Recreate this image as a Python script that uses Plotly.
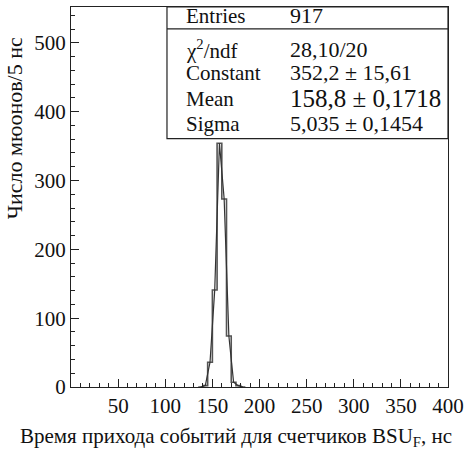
import plotly.graph_objects as go

# Histogram data (5 ns bins)
bin_left = [135, 140, 145, 150, 155, 160, 165, 170, 175, 180]
counts = [0, 2, 36, 141, 354, 273, 74, 7, 2, 0]
bin_width = 5

stat_labels = ["Entries", "\u03c7<sup>2</sup>/ndf", "Constant", "Mean", "Sigma"]
stat_values = ["917", "28,10/20", "352,2 \u00b1 15,61", "158,8 \u00b1 0,1718", "5,035 \u00b1 0,1454"]

x_ticks = [0, 50, 100, 150, 200, 250, 300, 350, 400]
x_ticktext = ["", "50", "100", "150", "200", "250", "300", "350", "400"]

x_title = "Время прихода событий для счетчиков BSU<sub>F</sub>, нс"
y_title = "Число мюонов/5 нс"

FONT = "Liberation Serif"

# plot-area geometry (pixels) used for paper-coordinate placement of texts
L, R, T, B = 71, 452, 6, 387
W, H = R - L, B - T


def px(x):
    return (x - L) / W


def py(y):
    return (B - y) / H


# step outline
sx, sy = [], []
for l, c in zip(bin_left, counts):
    sx += [l, l + bin_width]
    sy += [c, c]
centers = [l + bin_width / 2 for l in bin_left]

fig = go.Figure()
fig.add_trace(go.Scatter(x=sx, y=sy, mode="lines", line=dict(color="#555555", width=1.6),
                         hoverinfo="skip", showlegend=False))
fig.add_trace(go.Scatter(x=centers, y=counts, mode="lines", line=dict(color="#333333", width=1.2),
                         hoverinfo="skip", showlegend=False))

fig.update_layout(
    width=470, height=452,
    margin=dict(l=L, r=470 - R, t=T, b=452 - B),
    paper_bgcolor="white", plot_bgcolor="white",
    font=dict(family=FONT, size=20, color="#111111"),
    showlegend=False,
)
fig.update_xaxes(
    range=[0, 400], tickmode="array", tickvals=x_ticks, ticktext=x_ticktext,
    ticks="inside", ticklen=8, tickwidth=1, tickcolor="#222",
    minor=dict(ticks="inside", ticklen=4, dtick=10, tick0=0, tickcolor="#222"),
    showline=True, linecolor="#222", linewidth=1.2, mirror=True,
    showgrid=False, zeroline=False,
    tickfont=dict(size=21, family=FONT),
)
fig.update_yaxes(
    range=[0, 552], tickmode="linear", tick0=0, dtick=100,
    ticks="inside", ticklen=8, tickwidth=1, tickcolor="#222",
    minor=dict(ticks="inside", ticklen=4, dtick=20, tick0=0, tickcolor="#222"),
    showline=True, linecolor="#222", linewidth=1.2, mirror=True,
    showgrid=False, zeroline=False,
    tickfont=dict(size=21, family=FONT),
)

# axis titles
fig.add_annotation(xref="paper", yref="paper", x=px(238), y=py(437), text=x_title,
                   showarrow=False, xanchor="center", yanchor="middle",
                   font=dict(size=21, family=FONT, color="#111"))
fig.add_annotation(xref="paper", yref="paper", x=px(14), y=py(128), text=y_title,
                   textangle=-90, showarrow=False, xanchor="center", yanchor="middle",
                   font=dict(size=22, family=FONT, color="#111"))

# stats box
fig.add_shape(type="rect", xref="paper", yref="paper", x0=px(168), x1=1, y0=py(138), y1=1,
              line=dict(color="#222", width=1.2), fillcolor="white", layer="above")
fig.add_shape(type="line", xref="paper", yref="paper", x0=px(168), x1=1, y0=py(28), y1=py(28),
              line=dict(color="#222", width=1.2), layer="above")

row_y = [15, 49, 72, 98, 123]
for i, (lab, val) in enumerate(zip(stat_labels, stat_values)):
    size = 25 if lab == "Mean" else 22
    fig.add_annotation(xref="paper", yref="paper", x=px(185), y=py(row_y[i]), text=lab,
                       showarrow=False, xanchor="left", yanchor="middle",
                       font=dict(size=21, family=FONT, color="#111"))
    fig.add_annotation(xref="paper", yref="paper", x=px(290), y=py(row_y[i]), text=val,
                       showarrow=False, xanchor="left", yanchor="middle",
                       font=dict(size=size, family=FONT, color="#111"))

fig.write_html("out.html", config={"displayModeBar": False},
               post_script="document.body.style.margin='0';")
